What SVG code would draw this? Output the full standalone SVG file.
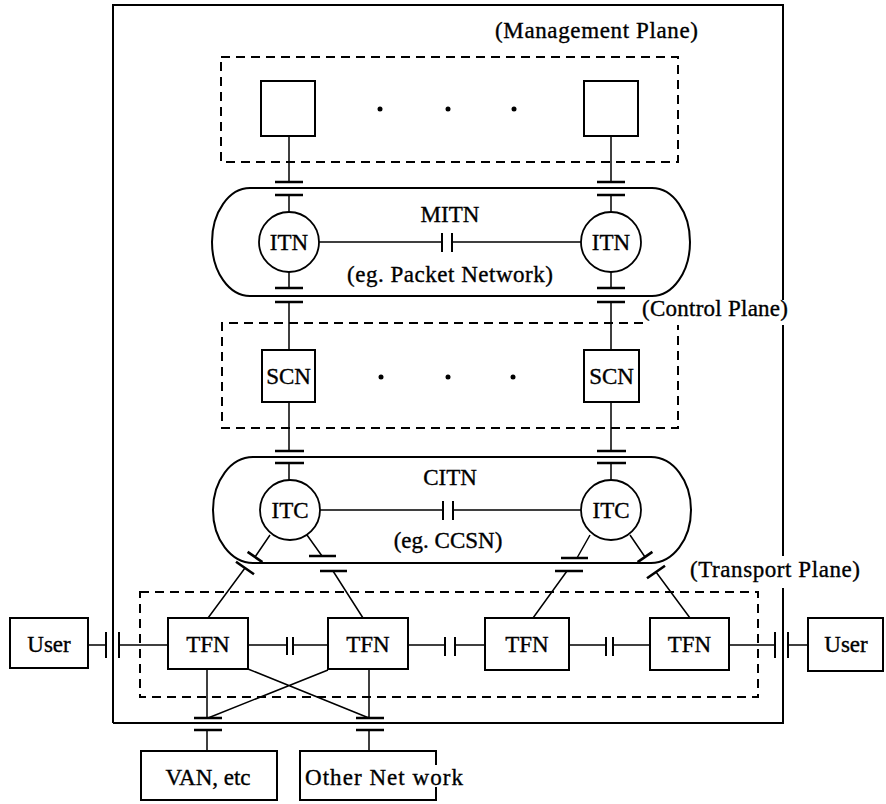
<svg xmlns="http://www.w3.org/2000/svg" width="886" height="804" viewBox="0 0 886 804">
  <style>
    .frame { fill: none; stroke: #000; stroke-width: 2; }
    .plane { fill: none; stroke: #000; stroke-width: 2; stroke-dasharray: 9 6; }
    .box { fill: #fff; stroke: #000; stroke-width: 2; }
    .ring { fill: none; stroke: #000; stroke-width: 2; }
    .node { fill: #fff; stroke: #000; stroke-width: 1.8; }
    .wire { fill: none; stroke: #000; stroke-width: 1.5; }
    .bar { fill: none; stroke: #000; stroke-width: 2.6; }
    .plate { fill: none; stroke: #000; stroke-width: 2; }
    .dot { fill: #000; }
    text { font-family: "Liberation Serif", "Times New Roman", serif; font-size: 23px; fill: #000; stroke: #000; stroke-width: 0.35; }
    .mid { text-anchor: middle; }
  </style>

  <!-- outer system frame, broken where the plane labels sit on it -->
  <path id="frame" class="frame" d="M113,723 V5 H783 V300 M783,325 V556 M783,588 V723 H113"/>

  <!-- planes -->
  <g id="management-plane">
    <rect class="plane" x="221" y="57" width="457" height="105"/>
    <text x="495" y="38" textLength="203" lengthAdjust="spacing">(Management Plane)</text>
  </g>
  <g id="control-plane">
    <path class="plane" d="M643,323 H222 V428 H678 V325"/>
    <text x="642" y="316" textLength="146" lengthAdjust="spacing">(Control Plane)</text>
  </g>
  <g id="transport-plane">
    <rect class="plane" x="140" y="592" width="618" height="105"/>
    <text x="690" y="577" textLength="170" lengthAdjust="spacing">(Transport Plane)</text>
  </g>

  <!-- connectors -->
  <g id="connectors">
    <!-- management boxes to MITN -->
    <path class="wire" d="M289,136 V182 M289,195 V212 M611,136 V182 M611,195 V212"/>
    <path class="bar" d="M275,182 H303 M275,195 H303 M597,182 H625 M597,195 H625"/>
    <!-- ITN to SCN -->
    <path class="wire" d="M289,272 V288 M289,302 V350 M611,272 V288 M611,302 V350"/>
    <path class="bar" d="M275,288 H303 M275,302 H303 M597,288 H625 M597,302 H625"/>
    <!-- ITN to ITN -->
    <path class="wire" d="M319,242 H442 M452,242 H581"/>
    <path class="plate" d="M442,233 V252 M452,233 V252"/>
    <!-- SCN to CITN -->
    <path class="wire" d="M289,402 V451 M289,463 V480 M611,402 V451 M611,463 V480"/>
    <path class="bar" d="M275,451 H304 M275,463 H304 M597,451 H626 M597,463 H626"/>
    <!-- ITC to ITC -->
    <path class="wire" d="M320,510 H443 M453,510 H581"/>
    <path class="plate" d="M443,501 V520 M453,501 V520"/>
    <!-- ITC legs inside CITN -->
    <path class="wire" d="M270,535 L255,557 M307,535 L322,556 M590,535 L577,558 M630,535 L645,557"/>
    <path class="bar" d="M247.6,551.9 L262.4,562.1 M309,556 H336 M561,558 H588 M637.6,562.1 L652.4,551.9"/>
    <!-- legs outside CITN down to TFNs -->
    <path class="bar" d="M236,561.7 L254,574.3 M320,571 H347 M555,571 H583 M647,578.3 L665,565.7"/>
    <path class="wire" d="M245,568 L208,618 M333,571 L363,618 M567,571 L533,618 M656,572 L690,618"/>
    <!-- transport row -->
    <path class="wire" d="M88,645 H106 M119,645 H168 M248,645 H287 M293,645 H328 M408,645 H445 M455,645 H485 M569,645 H606 M613,645 H650 M729,645 H775 M788,645 H808"/>
    <path class="plate" d="M106,632 V658 M119,632 V658 M287,637 V655 M293,637 V655 M445,637 V656 M455,637 V656 M606,637 V656 M613,637 V656 M775,632 V658 M788,632 V658"/>
    <!-- TFN to VAN / other network -->
    <path class="wire" d="M207,670 V718 M369,670 V718 M248,669 L369,718 M328,670 L208,718 M207,730 V751 M369,730 V751"/>
    <path class="bar" d="M194,718 H222 M194,730 H222 M356,718 H384 M356,730 H384"/>
  </g>

  <!-- management plane nodes -->
  <g id="mgmt-1"><rect class="box" x="261" y="81" width="54" height="55"/></g>
  <g id="mgmt-dots">
    <circle class="dot" cx="380" cy="109" r="2.5"/>
    <circle class="dot" cx="448" cy="109" r="2.5"/>
    <circle class="dot" cx="514" cy="109" r="2.5"/>
  </g>
  <g id="mgmt-n"><rect class="box" x="584" y="81" width="54" height="55"/></g>

  <!-- MITN -->
  <g id="mitn">
    <rect class="ring" x="212" y="188" width="478" height="108" rx="38" ry="54"/>
    <text class="mid" x="450" y="222">MITN</text>
    <text x="347" y="282" textLength="206" lengthAdjust="spacing">(eg. Packet Network)</text>
  </g>
  <g id="itn-1">
    <circle class="node" cx="289" cy="242" r="30"/>
    <text class="mid" x="289" y="250">ITN</text>
  </g>
  <g id="itn-2">
    <circle class="node" cx="611" cy="242" r="30"/>
    <text class="mid" x="611" y="250">ITN</text>
  </g>

  <!-- control plane nodes -->
  <g id="scn-1">
    <rect class="box" x="262" y="350" width="53" height="52"/>
    <text class="mid" x="288.5" y="384">SCN</text>
  </g>
  <g id="scn-dots">
    <circle class="dot" cx="381" cy="377" r="2.5"/>
    <circle class="dot" cx="448" cy="377" r="2.5"/>
    <circle class="dot" cx="513" cy="377" r="2.5"/>
  </g>
  <g id="scn-n">
    <rect class="box" x="584" y="350" width="55" height="52"/>
    <text class="mid" x="611.5" y="384">SCN</text>
  </g>

  <!-- CITN -->
  <g id="citn">
    <rect class="ring" x="213" y="457" width="478" height="106" rx="40" ry="53"/>
    <text class="mid" x="450" y="485">CITN</text>
    <text class="mid" x="448" y="548">(eg. CCSN)</text>
  </g>
  <g id="itc-1">
    <circle class="node" cx="290" cy="510" r="30"/>
    <text class="mid" x="290" y="518">ITC</text>
  </g>
  <g id="itc-2">
    <circle class="node" cx="611" cy="510" r="30"/>
    <text class="mid" x="611" y="518">ITC</text>
  </g>

  <!-- transport plane nodes -->
  <g id="tfn-1">
    <rect class="box" x="168" y="618" width="80" height="51"/>
    <text class="mid" x="208" y="652">TFN</text>
  </g>
  <g id="tfn-2">
    <rect class="box" x="328" y="618" width="80" height="51"/>
    <text class="mid" x="368" y="652">TFN</text>
  </g>
  <g id="tfn-3">
    <rect class="box" x="485" y="618" width="84" height="52"/>
    <text class="mid" x="527" y="652">TFN</text>
  </g>
  <g id="tfn-4">
    <rect class="box" x="650" y="618" width="79" height="52"/>
    <text class="mid" x="689.5" y="652">TFN</text>
  </g>

  <!-- users -->
  <g id="user-left">
    <rect class="box" x="10" y="618" width="78" height="50"/>
    <text class="mid" x="49" y="652">User</text>
  </g>
  <g id="user-right">
    <rect class="box" x="808" y="618" width="75" height="53"/>
    <text class="mid" x="846" y="652">User</text>
  </g>

  <!-- external networks -->
  <g id="van">
    <rect class="box" x="141" y="751" width="136" height="49"/>
    <text class="mid" x="208" y="785">VAN, etc</text>
  </g>
  <g id="other-network">
    <path class="frame" d="M436,765 V751 H300 V800 H436 V787"/>
    <text x="305" y="785" textLength="158" lengthAdjust="spacing">Other Net work</text>
  </g>
</svg>
